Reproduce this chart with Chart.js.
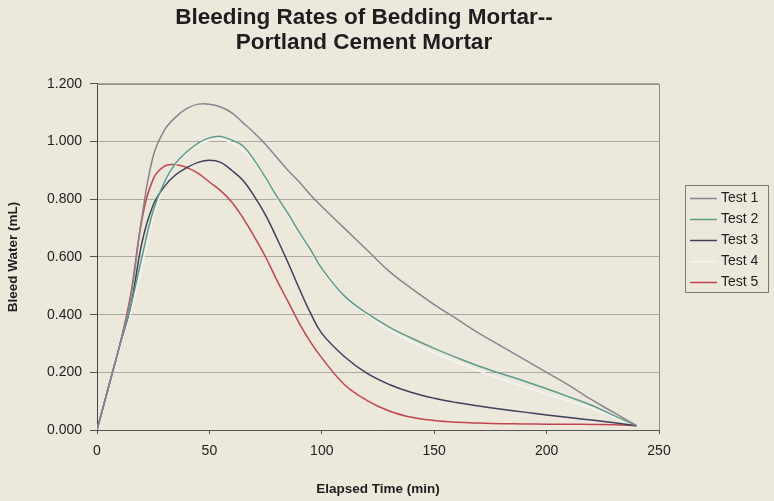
<!DOCTYPE html>
<html>
<head>
<meta charset="utf-8">
<script src="https://cdn.jsdelivr.net/npm/chart.js@4.4.0/dist/chart.umd.min.js"></script>
<style>
  html, body { margin: 0; padding: 0; background: #ede8dc; }
  #wrap { width: 774px; height: 501px; }
</style>
</head>
<body>
<div id="wrap"><canvas id="bleedChart" width="774" height="501"></canvas></div>
<script>
// elapsed time (min) and bleed water (mL)
const times = [0, 5, 10, 15, 20, 25, 30, 35, 40, 45, 50, 55, 60, 65, 70, 75, 80, 85, 90, 95,
               100, 110, 120, 130, 140, 150, 160, 170, 180, 190, 200, 210, 220, 230, 240];
const test1 = [0, 0.145, 0.29, 0.46, 0.74, 0.95, 1.04, 1.085, 1.115, 1.13, 1.13, 1.12, 1.10, 1.065, 1.03, 0.99, 0.945, 0.90, 0.86, 0.815,
               0.775, 0.70, 0.625, 0.55, 0.49, 0.435, 0.385, 0.335, 0.29, 0.245, 0.20, 0.155, 0.105, 0.06, 0.015];
const test2 = [0, 0.145, 0.29, 0.43, 0.60, 0.76, 0.86, 0.925, 0.965, 0.995, 1.013, 1.018, 1.005, 0.985, 0.935, 0.875, 0.81, 0.75, 0.685, 0.625,
               0.56, 0.465, 0.405, 0.357, 0.318, 0.283, 0.251, 0.221, 0.195, 0.17, 0.143, 0.115, 0.086, 0.05, 0.015];
const test3 = [0, 0.145, 0.29, 0.43, 0.65, 0.78, 0.845, 0.885, 0.91, 0.928, 0.935, 0.928, 0.90, 0.865, 0.81, 0.745, 0.665, 0.58, 0.49, 0.405,
               0.335, 0.255, 0.197, 0.158, 0.13, 0.11, 0.095, 0.083, 0.072, 0.062, 0.052, 0.043, 0.035, 0.025, 0.015];
const test4 = [0, 0.14, 0.28, 0.41, 0.57, 0.74, 0.85, 0.92, 0.96, 0.99, 1.005, 1.01, 0.995, 0.97, 0.93, 0.87, 0.805, 0.745, 0.68, 0.62,
               0.555, 0.46, 0.40, 0.348, 0.305, 0.268, 0.236, 0.205, 0.176, 0.15, 0.125, 0.10, 0.075, 0.045, 0.015];
const test5 = [0, 0.145, 0.29, 0.47, 0.73, 0.87, 0.915, 0.92, 0.91, 0.89, 0.86, 0.83, 0.79, 0.735, 0.67, 0.60, 0.52, 0.445, 0.37, 0.305,
               0.25, 0.158, 0.103, 0.066, 0.044, 0.033, 0.027, 0.024, 0.022, 0.021, 0.02, 0.02, 0.019, 0.018, 0.015];
const seriesNames = ['Test 1', 'Test 2', 'Test 3', 'Test 4', 'Test 5'];
const seriesColors = ['#8b8490', '#5e9c8a', '#3d3f5c', '#f3f6f1', '#c2434f'];
const xTicks = [0, 50, 100, 150, 200, 250];

const font = "'Liberation Sans', Arial, sans-serif";
const allTests = [test1, test2, test3, test4, test5];

const datasets = allTests.map((vals, i) => ({
    label: seriesNames[i],
    data: times.map((t, j) => ({ x: t, y: vals[j] })),
    borderColor: seriesColors[i],
    backgroundColor: seriesColors[i],
    borderWidth: 1.5,
    pointRadius: 0,
    fill: false,
    tension: 0.4
}));

// page background + grey frame around the plot
const frame = {
    id: 'frame',
    beforeDraw(chart) {
        const c = chart.ctx;
        c.save();
        c.fillStyle = '#ede8dc';
        c.fillRect(0, 0, chart.width, chart.height);
        c.restore();
    },
    beforeDatasetsDraw(chart) {
        const a = chart.chartArea, c = chart.ctx;
        c.save();
        c.strokeStyle = '#8e8b88';
        c.lineWidth = 1;
        c.beginPath();
        c.moveTo(a.left, a.top + 0.5);
        c.lineTo(a.right + 0.5, a.top + 0.5);
        c.lineTo(a.right + 0.5, a.bottom);
        c.stroke();
        c.restore();
    }
};

// boxed legend to the right of the plot
const boxLegend = {
    id: 'boxLegend',
    afterDraw(chart) {
        const c = chart.ctx;
        const x0 = 685, y0 = 185, w = 83, h = 107;
        c.save();
        c.strokeStyle = '#7d7a76';
        c.lineWidth = 1;
        c.strokeRect(x0 + 0.5, y0 + 0.5, w, h);
        c.font = '14px ' + font;
        c.textBaseline = 'middle';
        c.fillStyle = '#1e1e1e';
        chart.data.datasets.forEach((ds, i) => {
            const y = y0 + 13.5 + i * 21;
            c.strokeStyle = ds.borderColor;
            c.lineWidth = 1.5;
            c.beginPath();
            c.moveTo(x0 + 5, y);
            c.lineTo(x0 + 32, y);
            c.stroke();
            c.fillText(ds.label, x0 + 36, y);
        });
        c.restore();
    }
};

new Chart(document.getElementById('bleedChart'), {
    type: 'line',
    data: { datasets: datasets },
    options: {
        responsive: false,
        animation: false,
        layout: { padding: { left: 0, right: 46, top: 0, bottom: 0 } },
        plugins: {
            legend: { display: false },
            tooltip: { enabled: false },
            title: {
                display: true,
                text: ['Bleeding Rates of Bedding Mortar--', 'Portland Cement Mortar'],
                color: '#1e1e1e',
                font: { family: font, size: 22.5, weight: 'bold', lineHeight: 1.11 },
                padding: { top: 5, bottom: 29 }
            }
        },
        scales: {
            x: {
                type: 'linear',
                min: 0,
                max: 250,
                afterBuildTicks: (s) => { s.ticks = xTicks.map(v => ({ value: v })); },
                afterFit: (s) => { s.height = 71; },
                grid: { drawOnChartArea: false, tickLength: 4, tickColor: '#555' },
                border: { color: '#555', width: 1 },
                ticks: { color: '#1e1e1e', font: { family: font, size: 14 }, padding: 9, maxRotation: 0 },
                title: {
                    display: true,
                    text: 'Elapsed Time (min)',
                    color: '#1e1e1e',
                    font: { family: font, size: 13.5, weight: 'bold' },
                    padding: { top: 0, bottom: 4 }
                }
            },
            y: {
                min: 0,
                max: 1.2,
                afterFit: (s) => { s.width = 97; },
                grid: { color: '#aca8a2', tickLength: 7, tickColor: '#555' },
                border: { color: '#444', width: 1 },
                ticks: {
                    stepSize: 0.2,
                    color: '#1e1e1e',
                    font: { family: font, size: 14 },
                    padding: 8,
                    callback: (v) => v.toFixed(3)
                },
                title: {
                    display: true,
                    text: 'Bleed Water (mL)',
                    color: '#1e1e1e',
                    font: { family: font, size: 13.5, weight: 'bold' },
                    padding: { top: 5, bottom: 0 }
                }
            },
            // empty strip holding the legend space, keeps the title centred like the original
            yLegend: {
                position: 'right',
                display: true,
                min: 0,
                max: 1,
                afterFit: (s) => { s.width = 69; },
                grid: { display: false },
                border: { display: false },
                ticks: { display: false }
            }
        }
    },
    plugins: [frame, boxLegend]
});
</script>
</body>
</html>
